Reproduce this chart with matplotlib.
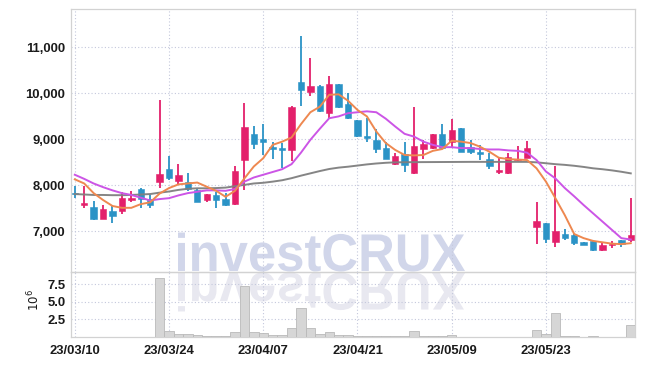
import matplotlib
matplotlib.use("Agg")
import matplotlib.pyplot as plt
from matplotlib.textpath import TextPath
from matplotlib.patches import PathPatch
from matplotlib.font_manager import FontProperties
from matplotlib.transforms import Affine2D
from matplotlib.ticker import FuncFormatter

# -----------------------------------
# DATA
# -----------------------------------

dates = [
    "23/03/10", "23/03/13", "23/03/14", "23/03/15", "23/03/16", "23/03/17",
    "23/03/20", "23/03/21", "23/03/22", "23/03/23", "23/03/24", "23/03/27",
    "23/03/28", "23/03/29", "23/03/30", "23/03/31", "23/04/03", "23/04/04",
    "23/04/05", "23/04/06", "23/04/07", "23/04/10", "23/04/11", "23/04/12",
    "23/04/13", "23/04/14", "23/04/17", "23/04/18", "23/04/19", "23/04/20",
    "23/04/21", "23/04/24", "23/04/25", "23/04/26", "23/04/27", "23/04/28",
    "23/05/02", "23/05/03", "23/05/04", "23/05/08", "23/05/09", "23/05/10",
    "23/05/11", "23/05/12", "23/05/15", "23/05/16", "23/05/17", "23/05/18",
    "23/05/19", "23/05/22", "23/05/23", "23/05/24", "23/05/25", "23/05/26",
    "23/05/30", "23/05/31", "23/06/01", "23/06/02", "23/06/05", "23/06/07",
]

opens = [
    7830, 7580, 7530, 7270, 7440, 7450, 7690, 7920, 7700, 8080,
    8360, 8090, 8070, 7900, 7670, 7790, 7700, 7590, 8560, 9120,
    9010, 8830, 8810, 8760, 10250, 10040, 10160, 9570, 10200, 9770,
    9420, 9080, 8990, 8810, 8470, 8690, 8260, 8780, 8810, 9120,
    8940, 9250, 8830, 8730, 8570, 8300, 8260, 8550, 8600, 7100,
    7180, 6760, 6930, 6920, 6760, 6780, 6600, 6690, 6810, 6810,
]

highs = [
    7990, 7990, 7660, 7570, 7570, 7860, 7880, 7940, 7780, 9850,
    8630, 8460, 8260, 7910, 7810, 7860, 7830, 8410, 9790, 9280,
    9330, 8950, 8920, 9720, 11260, 10780, 10190, 10370, 10210, 10000,
    9420, 9460, 9230, 8950, 8700, 8940, 9710, 8990, 9120, 9340,
    9440, 9250, 8990, 8880, 8700, 8590, 8700, 8860, 8970, 7630,
    7180, 8410, 7050, 6930, 6760, 6780, 6760, 6790, 6810, 7730,
]

lows = [
    7730, 7500, 7250, 7260, 7190, 7370, 7630, 7500, 7510, 7940,
    8120, 8020, 7880, 7630, 7630, 7510, 7540, 7570, 7900, 8790,
    8660, 8570, 8370, 8530, 9730, 9950, 9590, 9460, 9680, 9450,
    9050, 8950, 8700, 8570, 8440, 8280, 8250, 8570, 8790, 8790,
    8820, 8720, 8680, 8560, 8360, 8250, 8250, 8520, 8590, 6720,
    6740, 6660, 6810, 6700, 6700, 6580, 6580, 6630, 6650, 6760,
]

closes = [
    7800, 7610, 7270, 7480, 7340, 7720, 7720, 7700, 7580, 8250,
    8150, 8230, 7910, 7640, 7800, 7680, 7580, 8310, 9270, 8890,
    8950, 8800, 8760, 9710, 10080, 10160, 9620, 10200, 9710, 9460,
    9070, 9020, 8800, 8580, 8640, 8440, 8860, 8900, 9120, 8810,
    9210, 8730, 8730, 8690, 8430, 8330, 8610, 8570, 8810, 7220,
    6840, 7000, 6860, 6750, 6710, 6590, 6700, 6720, 6720, 6910,
]

# volume in millions of shares
volume = [
    0, 0, 0, 0, 0, 0, 0, 0, 0, 8.3,
    0.85, 0.38, 0.38, 0.24, 0.1, 0.1, 0.1, 0.66, 7.2, 0.66,
    0.52, 0.25, 0.25, 1.23, 4.07, 1.23, 0.42, 0.66, 0.24, 0.24,
    0.08, 0.08, 0.08, 0.08, 0.1, 0.1, 0.85, 0.12, 0.12, 0.12,
    0.24, 0.02, 0.02, 0.02, 0.02, 0.02, 0.02, 0.02, 0.02, 0.95,
    0.38, 3.36, 0.1, 0.1, 0.02, 0.1, 0.02, 0.02, 0.02, 1.66,
]

ma_fast = [
    8130, 8040, 7830, 7680, 7550, 7510, 7510, 7590, 7630, 7820,
    7940, 8020, 8040, 8060, 7970, 7880, 7750, 7880, 8150, 8410,
    8590, 8880, 8950, 9040, 9330, 9590, 9710, 9970, 9980, 9840,
    9640, 9500, 9170, 8920, 8770, 8660, 8650, 8660, 8750, 8790,
    8970, 8950, 8920, 8840, 8730, 8600, 8570, 8560, 8550, 8370,
    8080, 7720, 7350, 6940, 6850, 6790, 6760, 6730, 6720, 6740,
]

ma_mid = [
    8230, 8140, 8040, 7960, 7890, 7830, 7790, 7730, 7670, 7700,
    7720, 7780, 7830, 7860, 7890, 7890, 7880, 7920, 8080, 8170,
    8230, 8290, 8350, 8460, 8710, 8990, 9230, 9460, 9500, 9570,
    9590, 9610, 9590, 9450, 9280, 9120, 9060, 8950, 8880, 8830,
    8830, 8810, 8810, 8790, 8780, 8780, 8760, 8750, 8710, 8550,
    8300, 8150, 7940, 7760, 7570, 7390, 7210, 7030, 6850, 6820,
]

ma_slow = [
    7810, 7800, 7790, 7790, 7785, 7785, 7790, 7800, 7810, 7840,
    7865, 7900, 7925, 7935, 7935, 7940, 7950, 7980, 8010, 8040,
    8055, 8080, 8110, 8155, 8210, 8260, 8310, 8355, 8385, 8405,
    8430, 8455, 8475, 8490, 8500, 8502, 8504, 8505, 8506, 8507,
    8508, 8509, 8510, 8510, 8510, 8510, 8510, 8510, 8510, 8500,
    8480, 8460, 8445, 8425, 8400, 8370, 8350, 8325, 8295, 8260,
]

price_ticks = [7000, 8000, 9000, 10000, 11000]
volume_ticks = [2.5, 5.0, 7.5]
date_tick_step = 10

# -----------------------------------
# STYLE
# -----------------------------------

UP_COLOR = "#e3206b"
DOWN_COLOR = "#2b93c6"
GRID_COLOR = "#c4c8dc"
SPINE_COLOR = "#d2d2d2"
TEXT_COLOR = "#1a1a1a"

tick_font = FontProperties(family=["Liberation Sans", "DejaVu Sans"],
                           weight="bold", size=9.4)

# -----------------------------------
# FIGURE + AXES
# -----------------------------------

fig = plt.figure(figsize=(6.45, 3.66), dpi=100)

ax = fig.add_axes([0.1101, 0.2568, 0.8744, 0.7186])
axv = fig.add_axes([0.1101, 0.0792, 0.8744, 0.1776], sharex=ax)

for a in (ax, axv):
    a.set_facecolor("none")
    a.grid(True, color=GRID_COLOR, linestyle=(0, (1, 2)), linewidth=0.8)
    a.set_axisbelow(True)
    for s in a.spines.values():
        s.set_color(SPINE_COLOR)
        s.set_linewidth(0.9)
    a.tick_params(length=0, pad=4, colors=TEXT_COLOR)

# -----------------------------------
# WATERMARK (with reflection)
# -----------------------------------

wm_font = FontProperties(family="Liberation Sans", weight="bold")
wm_path = TextPath((0, 0), "investCRUX", size=1, prop=wm_font)
bb = wm_path.get_extents()
sx = 287 / bb.width
sy = 39 / bb.height

to_fig = Affine2D().scale(1 / 100) + fig.dpi_scale_trans

wm = PathPatch(
    wm_path,
    transform=Affine2D().translate(-bb.x0, 0).scale(sx, sy).translate(178, 366 - 271) + to_fig,
    facecolor="#d1d6ea",
    edgecolor="none",
    zorder=-5,
)
wm_reflect = PathPatch(
    wm_path,
    transform=Affine2D().translate(-bb.x0, 0).scale(sx, -sy).translate(178, 366 - 273) + to_fig,
    facecolor="#e8e8f0",
    edgecolor="none",
    zorder=-5,
)
fig.patches.extend([wm, wm_reflect])

# -----------------------------------
# CANDLES
# -----------------------------------

x = list(range(len(dates)))
colors = [UP_COLOR if c >= o else DOWN_COLOR for o, c in zip(opens, closes)]
bottoms = [min(o, c) for o, c in zip(opens, closes)]
heights = [max(abs(c - o), 25) for o, c in zip(opens, closes)]

ax.vlines(x, lows, highs, colors=colors, linewidth=1.3, zorder=3)
ax.bar(x, heights, bottom=bottoms, width=0.68, color=colors,
       edgecolor=colors, linewidth=0.4, zorder=4)

# moving averages
ax.plot(x, ma_slow, color="#7f7f7f", linewidth=1.4, alpha=0.95, zorder=5)
ax.plot(x, ma_mid, color="#cc55e6", linewidth=1.4, zorder=5)
ax.plot(x, ma_fast, color="#ee8850", linewidth=1.4, zorder=6)

ax.set_xlim(-0.4, 59.45)
ax.set_ylim(6113, 11837)
ax.set_yticks(price_ticks)
ax.yaxis.set_major_formatter(FuncFormatter(lambda v, p: f"{v:,.0f}"))
for lbl in ax.get_yticklabels():
    lbl.set_fontproperties(tick_font)

tick_pos = x[::date_tick_step]
ax.set_xticks(tick_pos)
ax.tick_params(axis="x", labelbottom=False)

# -----------------------------------
# VOLUME
# -----------------------------------

axv.bar(x, volume, width=1.0, color="#d6d6d6", edgecolor="#b9b9b9",
        linewidth=0.6, zorder=3)
axv.set_ylim(0, 9.2)
axv.set_yticks(volume_ticks)
axv.set_yticklabels([f"{v:.1f}" for v in volume_ticks])
axv.set_xticks(tick_pos)
axv.set_xticklabels([dates[i] for i in tick_pos])
axv.tick_params(axis="x", pad=6)
for lbl in axv.get_yticklabels() + axv.get_xticklabels():
    lbl.set_fontproperties(tick_font)

fig.text(0.052, 0.18, r"$10^6$", rotation=90, ha="center", va="center",
         fontsize=8.5, color=TEXT_COLOR)

plt.savefig("out.png", dpi=100)
